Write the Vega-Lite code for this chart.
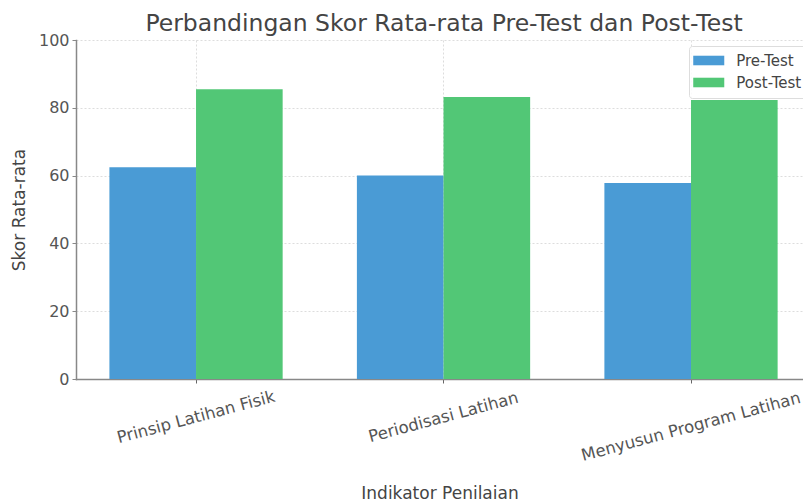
{
  "$schema": "https://vega.github.io/schema/vega-lite/v6.json",
  "autosize": {"type": "none"},
  "padding": {"left": 76, "top": 40, "right": 0, "bottom": 125},
  "width": 727,
  "height": 339,
  "background": "white",
  "title": {
    "text": "Perbandingan Skor Rata-rata Pre-Test dan Post-Test",
    "font": "DejaVu Sans",
    "fontSize": 23.5,
    "fontWeight": "normal",
    "color": "#444444",
    "anchor": "middle",
    "frame": "group",
    "dx": 4.5,
    "offset": -3
  },
  "data": {
    "values": [
      {"indikator": "Prinsip Latihan Fisik", "tes": "Pre-Test", "skor": 62.5},
      {"indikator": "Prinsip Latihan Fisik", "tes": "Post-Test", "skor": 85.5},
      {"indikator": "Periodisasi Latihan", "tes": "Pre-Test", "skor": 60.0},
      {"indikator": "Periodisasi Latihan", "tes": "Post-Test", "skor": 83.2},
      {"indikator": "Menyusun Program Latihan", "tes": "Pre-Test", "skor": 57.8},
      {"indikator": "Menyusun Program Latihan", "tes": "Post-Test", "skor": 82.3}
    ]
  },
  "mark": {"type": "bar"},
  "encoding": {
    "x": {
      "field": "indikator",
      "type": "nominal",
      "sort": ["Prinsip Latihan Fisik", "Periodisasi Latihan", "Menyusun Program Latihan"],
      "scale": {"paddingInner": 0.3, "paddingOuter": 0.11875, "align": 0.5684},
      "axis": {
        "title": "Indikator Penilaian",
        "titleFont": "DejaVu Sans",
        "titleFontSize": 17,
        "titleFontWeight": "normal",
        "titleColor": "#444444",
        "titlePadding": 22,
        "labelFont": "DejaVu Sans",
        "labelFontSize": 16.5,
        "labelColor": "#555555",
        "labelAngle": -15,
        "labelAlign": "center",
        "labelBaseline": "middle",
        "labelLimit": 0,
        "labelPadding": {"condition": {"test": "datum.value === 'Menyusun Program Latihan'", "value": 43.5}, "value": 34},
        "labelOverlap": false,
        "labelBound": false,
        "labelFlush": false,
        "grid": true,
        "bandPosition": 0.5,
        "gridColor": "#d4d4d4",
        "gridDash": [2, 2],
        "gridWidth": 0.8,
        "domainColor": "#888888",
        "domainWidth": 1.5,
        "tickColor": "#666666",
        "tickSize": 4,
        "tickWidth": 1
      }
    },
    "xOffset": {
      "field": "tes",
      "type": "nominal",
      "sort": ["Pre-Test", "Post-Test"],
      "scale": {"paddingInner": 0, "paddingOuter": 0}
    },
    "y": {
      "field": "skor",
      "type": "quantitative",
      "scale": {"domain": [0, 100], "nice": false},
      "axis": {
        "title": "Skor Rata-rata",
        "titleFont": "DejaVu Sans",
        "titleFontSize": 17,
        "titleFontWeight": "normal",
        "titleColor": "#444444",
        "titlePadding": 10,
        "values": [0, 20, 40, 60, 80, 100],
        "labelFont": "DejaVu Sans",
        "labelFontSize": 16,
        "labelColor": "#555555",
        "labelPadding": 3,
        "grid": true,
        "gridColor": "#d4d4d4",
        "gridDash": [2, 2],
        "gridWidth": 0.8,
        "domainColor": "#888888",
        "domainWidth": 1.5,
        "tickColor": "#888888",
        "tickSize": 4,
        "tickWidth": 1
      }
    },
    "color": {
      "field": "tes",
      "type": "nominal",
      "sort": ["Pre-Test", "Post-Test"],
      "scale": {"domain": ["Pre-Test", "Post-Test"], "range": ["#4a9bd5", "#52c776"]},
      "legend": {
        "title": null,
        "orient": "none",
        "legendX": 613,
        "legendY": 6,
        "symbolType": "M-2.14,-0.66H2.14V0.66H-2.14Z",
        "symbolSize": 210.25,
        "symbolStrokeWidth": 0,
        "symbolOffset": 5.25,
        "labelFont": "DejaVu Sans",
        "labelFontSize": 15,
        "labelColor": "#444444",
        "labelOffset": 20,
        "rowPadding": 6,
        "padding": 7,
        "strokeColor": "#dddddd",
        "fillColor": "rgba(255,255,255,0.85)",
        "cornerRadius": 3
      }
    }
  },
  "config": {
    "view": {"stroke": null},
    "axis": {"domainCap": "square"}
  }
}
